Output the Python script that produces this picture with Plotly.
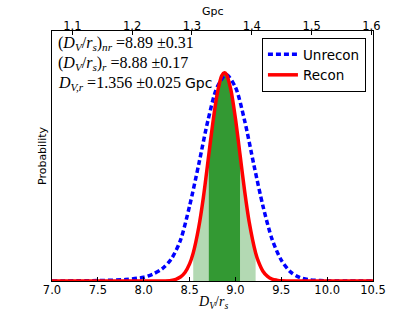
import plotly.graph_objects as go

# ---- data ----
red_x = [7.0, 7.5, 8.0, 8.2, 8.3, 8.35, 8.4, 8.45, 8.5, 8.54, 8.6, 8.65, 8.71, 8.75, 8.8,
         8.85, 8.88, 8.9, 8.95, 9.0, 9.05, 9.1, 9.15, 9.22, 9.25, 9.3, 9.35, 9.4, 9.45,
         9.5, 9.6, 9.8, 10.0, 10.5]
red_y = [0.0, 0.0, 0.0, 0.0003, 0.003, 0.008, 0.019, 0.041, 0.082, 0.135, 0.258, 0.400,
         0.607, 0.747, 0.895, 0.985, 1.0, 0.993, 0.919, 0.780, 0.607, 0.433, 0.283, 0.135,
         0.094, 0.047, 0.022, 0.009, 0.004, 0.001, 0.0, 0.0, 0.0, 0.0]

blue_x = [7.0, 7.5, 7.8, 8.0, 8.1, 8.2, 8.3, 8.4, 8.5, 8.6, 8.7, 8.8, 8.9, 9.0, 9.1, 9.2,
          9.3, 9.4, 9.5, 9.6, 9.7, 9.8, 10.0, 10.5]
blue_y = [0.0, 0.002, 0.007, 0.018, 0.033, 0.058, 0.105, 0.195, 0.36, 0.56, 0.77, 0.93,
          0.99, 0.93, 0.77, 0.56, 0.36, 0.20, 0.10, 0.044, 0.017, 0.006, 0.001, 0.0]

band_2sig = (8.54, 9.22)
band_1sig = (8.71, 9.05)

x_ticks = [7.0, 7.5, 8.0, 8.5, 9.0, 9.5, 10.0, 10.5]
gpc_ticks = [1.1, 1.2, 1.3, 1.4, 1.5, 1.6]

series_names = ["Unrecon", "Recon"]
stat_lines = [
    "(<i>D</i><sub><i>V</i></sub>/<i>r</i><sub><i>s</i></sub>)<sub><i>nr</i></sub> =8.89 ±0.31",
    "(<i>D</i><sub><i>V</i></sub>/<i>r</i><sub><i>s</i></sub>)<sub><i>r</i></sub> =8.88 ±0.17",
    "<i>D</i><sub><i>V,r</i></sub> =1.356 ±0.025 "
    "<span style='font-family:DejaVu Sans;font-size:14px'>Gpc</span>",
]

SERIF = "Liberation Serif"
SANS = "DejaVu Sans"


def band(lo, hi):
    xs = [x for x in red_x if lo <= x <= hi]
    ys = [y for x, y in zip(red_x, red_y) if lo <= x <= hi]
    return xs, ys


fig = go.Figure()
for (lo, hi), col in [(band_2sig, "#b3d9b3"), (band_1sig, "#339933")]:
    bx, by = band(lo, hi)
    fig.add_trace(go.Scatter(x=bx, y=by, mode="lines", fill="tozeroy", fillcolor=col,
                             line=dict(width=0, shape="spline", smoothing=0.8),
                             showlegend=False, hoverinfo="skip"))

fig.add_trace(go.Scatter(x=blue_x, y=blue_y, mode="lines", name=series_names[0],
                         line=dict(color="#0000ff", width=3.5, dash="5px,3px",
                                   shape="spline", smoothing=0.8)))
fig.add_trace(go.Scatter(x=red_x, y=red_y, mode="lines", name=series_names[1],
                         line=dict(color="#ff0000", width=3.5, shape="spline", smoothing=0.8)))
# invisible trace to carry the top Gpc axis
fig.add_trace(go.Scatter(x=gpc_ticks, y=[None] * len(gpc_ticks), xaxis="x2",
                         mode="lines", showlegend=False, hoverinfo="skip"))

fig.update_layout(
    width=415, height=313,
    margin=dict(l=52, r=42, t=31, b=32, autoexpand=False),
    paper_bgcolor="white", plot_bgcolor="white",
    font=dict(family=SANS, size=10, color="black"),
    xaxis=dict(range=[7.0, 10.5], tickvals=x_ticks, ticktext=[f"{v:.1f}" for v in x_ticks],
               ticks="inside", ticklen=4, tickcolor="black", showline=True, mirror=True,
               linecolor="black", linewidth=1, showgrid=False, zeroline=False,
               automargin=False, tickfont=dict(family=SANS, size=11.5)),
    xaxis2=dict(range=[1.066, 1.6027], overlaying="x", side="top", tickvals=gpc_ticks,
                ticktext=[f"{v:.1f}" for v in gpc_ticks], ticks="inside", ticklen=4,
                tickcolor="black", showline=False, showgrid=False, zeroline=False,
                automargin=False, tickfont=dict(family=SANS, size=11.5)),
    yaxis=dict(range=[0, 1.2], showticklabels=False, ticks="", showline=True, mirror=True,
               linecolor="black", linewidth=1, showgrid=False, zeroline=False,
               automargin=False),
    legend=dict(x=0.978, xanchor="right", y=0.972, yanchor="top", bordercolor="black",
                borderwidth=1, bgcolor="white", font=dict(family=SANS, size=13.5),
                tracegroupgap=0),
    showlegend=True,
)
try:
    fig.update_layout(xaxis2_ticklabelstandoff=-2, xaxis_ticklabelstandoff=-2)
except Exception:
    pass

ann = []
for i, t in enumerate(stat_lines):
    ann.append(dict(text=t, x=0.012, y=0.952 - 0.08 * i, xref="paper", yref="paper",
                    xanchor="left", yanchor="middle", showarrow=False,
                    font=dict(family=SERIF, size=16)))
ann.append(dict(text="Probability", x=-0.031, y=0.5, xref="paper", yref="paper",
                xanchor="center", yanchor="middle",
                textangle=-90, showarrow=False, font=dict(family=SANS, size=11)))
ann.append(dict(text="<i>D</i><sub><i>V</i></sub>/<i>r</i><sub><i>s</i></sub>",
                x=0.5, y=-0.084, xref="paper", yref="paper", yanchor="middle",
                xanchor="center", showarrow=False, font=dict(family=SERIF, size=14)))
ann.append(dict(text="Gpc", x=0.5, y=1.076, xref="paper", yref="paper", yanchor="middle",
                xanchor="center", showarrow=False, font=dict(family=SANS, size=11)))
fig.update_layout(annotations=ann)

fig.write_html("out.html", config={"displayModeBar": False},
               post_script="document.body.style.margin='0px';document.body.style.padding='0px';")
